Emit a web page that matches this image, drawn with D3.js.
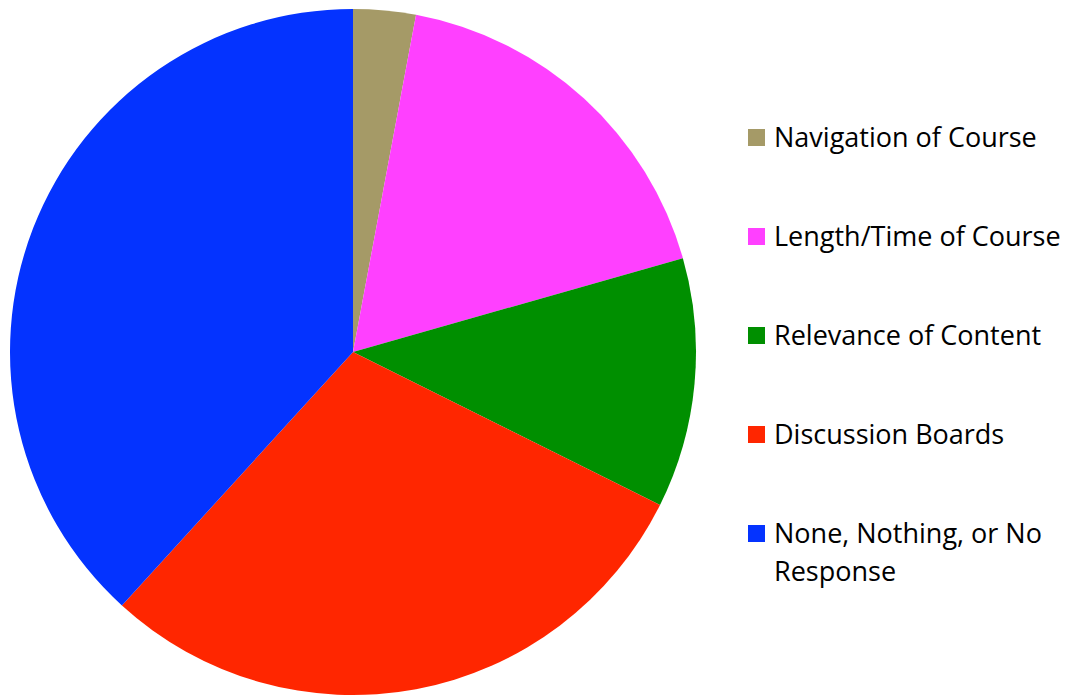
<!DOCTYPE html>
<html>
<head>
<meta charset="utf-8">
<script src="https://cdn.jsdelivr.net/npm/d3@7"></script>
<style>
  html, body { margin: 0; padding: 0; background: #fff; }
  svg { display: block; }
</style>
</head>
<body>
<svg id="chart" width="1076" height="696"></svg>
<script>
// Responses per category
const categories = [
  "Navigation of Course",
  "Length/Time of Course",
  "Relevance of Content",
  "Discussion Boards",
  "None, Nothing, or No Response"
];
const counts = [1, 6, 4, 10, 13];
const colors = ["#A59A67", "#FF40FF", "#008F00", "#FF2600", "#0433FF"];
// Legend lines (long labels wrap)
const legendLines = [
  ["Navigation of Course"],
  ["Length/Time of Course"],
  ["Relevance of Content"],
  ["Discussion Boards"],
  ["None, Nothing, or No", "Response"]
];

const svg = d3.select("#chart");
const cx = 353, cy = 352, r = 343;

const data = categories.map((c, i) => ({ name: c, value: counts[i], color: colors[i] }));

const pie = d3.pie().value(d => d.value).sort(null);
const arc = d3.arc().innerRadius(0).outerRadius(r);

svg.append("g")
  .attr("transform", `translate(${cx},${cy})`)
  .selectAll("path")
  .data(pie(data))
  .join("path")
  .attr("d", arc)
  .attr("fill", d => d.data.color);

// Legend
const legendY = d3.scalePoint().domain(categories).range([138, 534]);
const legend = svg.append("g");
data.forEach((d, i) => {
  const y = legendY(d.name);
  legend.append("rect")
    .attr("x", 748).attr("y", y - 9)
    .attr("width", 17).attr("height", 17)
    .attr("fill", d.color);
  const t = legend.append("text")
    .attr("x", 774).attr("y", y)
    .attr("font-family", "'Open Sans', sans-serif")
    .attr("font-size", 27)
    .attr("fill", "#000");
  legendLines[i].forEach((line, j) => {
    t.append("tspan").attr("x", 774).attr("dy", j === 0 ? "0.35em" : 38).text(line);
  });
});
</script>
</body>
</html>
